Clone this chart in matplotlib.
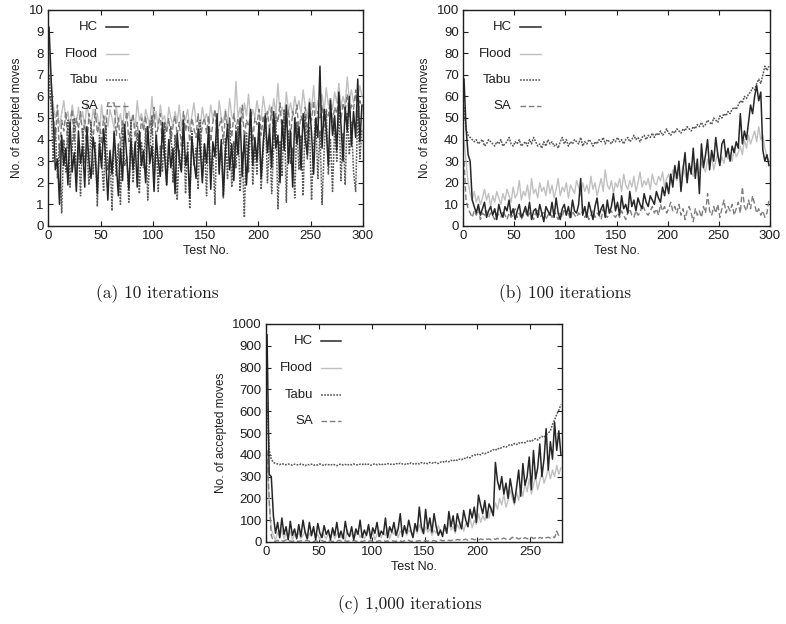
import matplotlib
matplotlib.use("Agg")
import matplotlib.pyplot as plt
import numpy as np

# ---------------- data ----------------
series_names = ["HC", "Flood", "Tabu", "SA"]
captions = ["(a) 10 iterations", "(b) 100 iterations", "(c) 1,000 iterations"]

x_a = list(range(1, 300, 2))
x_b = list(range(1, 300, 2))
x_c = list(range(1, 280, 2))

a_hc = [9.2, 6.8, 4.9, 2.6, 3.1, 1.0, 4.2, 2.8, 3.6, 1.9, 4.8, 2.5, 3.4, 1.6, 4.4,
        2.9, 3.7, 1.8, 4.6, 3.0, 2.2, 4.1, 3.3, 1.5, 3.8, 2.7, 4.5, 3.1, 1.2, 3.5,
        2.4, 4.3, 2.9, 1.4, 3.6, 2.1, 4.7, 3.2, 1.7, 4.0, 2.6, 3.9, 1.8, 4.4, 2.8,
        3.5, 2.0, 4.6, 2.9, 3.7, 1.6, 4.2, 3.0, 2.3, 4.8, 3.3, 1.9, 4.0, 2.7, 3.6,
        1.5, 4.3, 3.1, 2.5, 4.9, 2.8, 3.4, 1.3, 4.1, 3.0, 2.2, 4.5, 3.6, 2.0, 3.8,
        2.9, 4.6, 1.7, 3.9, 3.2, 5.2, 2.4, 4.0, 1.4, 3.5, 4.7, 2.6, 3.8, 2.1, 4.4,
        3.3, 5.0, 2.3, 4.2, 1.9, 3.7, 5.4, 2.8, 4.1, 3.0, 4.8, 2.2, 3.9, 5.1, 3.4,
        4.5, 2.7, 5.3, 3.6, 4.2, 2.0, 4.9, 3.5, 5.6, 2.9, 4.4, 1.8, 5.0, 3.8, 4.6,
        2.6, 5.2, 4.0, 3.3, 5.7, 4.3, 2.4, 5.0, 4.1, 7.4, 3.6, 5.4, 4.5, 2.8, 5.8,
        4.2, 5.1, 3.5, 6.2, 4.7, 3.0, 5.5, 4.4, 6.0, 3.7, 5.3, 4.1, 6.8, 3.9, 5.6]
a_flood = [8.0, 6.5, 5.6, 5.0, 5.4, 4.6, 5.2, 5.8, 4.9, 5.3, 4.4, 5.6, 5.0, 4.7, 5.5,
           4.8, 5.3, 4.5, 5.7, 5.0, 4.6, 5.4, 4.9, 5.2, 4.3, 5.6, 4.8, 5.1, 4.6, 5.4,
           5.0, 4.5, 5.5, 4.8, 5.2, 4.4, 5.7, 4.9, 5.3, 4.7, 5.1, 4.5, 5.8, 4.9, 5.2,
           4.6, 5.4, 5.0, 4.7, 6.0, 4.8, 5.3, 4.5, 5.6, 4.9, 5.1, 4.4, 5.5, 5.0, 4.7,
           5.3, 4.8, 5.6, 4.6, 5.2, 4.9, 5.4, 4.5, 5.1, 5.7, 4.8, 5.0, 4.6, 5.5, 4.9,
           5.2, 4.7, 5.6, 4.9, 5.3, 4.6, 5.8, 5.0, 4.8, 5.4, 4.7, 5.9, 5.1, 4.9, 6.7,
           5.0, 5.5, 4.8, 5.7, 5.1, 6.1, 4.9, 5.4, 5.0, 5.8, 5.2, 4.9, 6.0, 5.3, 5.1,
           5.6, 5.0, 5.9, 5.2, 6.6, 5.1, 5.5, 5.0, 6.2, 5.3, 5.7, 5.1, 6.0, 5.4, 5.8,
           5.2, 6.3, 5.5, 5.0, 5.9, 5.4, 6.5, 5.2, 5.8, 5.5, 6.1, 5.3, 6.4, 5.6, 5.9,
           5.4, 6.2, 5.7, 6.6, 5.5, 6.0, 5.6, 6.9, 5.8, 6.3, 5.7, 6.1, 5.9, 6.5, 6.0]
a_tabu = [7.0, 5.5, 3.0, 4.6, 2.2, 3.8, 0.6, 4.0, 2.5, 4.9, 1.8, 3.5, 5.0, 2.0, 3.7,
          1.4, 4.5, 2.9, 3.6, 1.9, 4.8, 2.4, 3.9, 0.9, 4.2, 3.1, 1.6, 4.7, 2.6, 3.3,
          0.7, 4.4, 2.3, 3.8, 1.0, 4.6, 2.8, 3.2, 1.1, 4.9, 2.0, 3.6, 4.3, 1.5, 3.9,
          2.7, 4.5, 1.2, 3.4, 5.1, 2.2, 4.0, 1.6, 3.7, 2.5, 4.8, 1.9, 3.3, 4.6, 2.0,
          4.2, 1.2, 3.5, 2.6, 4.7, 1.5, 3.9, 0.8, 4.4, 2.8, 3.6, 1.7, 4.9, 2.3, 3.8,
          1.4, 4.5, 2.6, 3.3, 1.0, 4.8, 2.9, 3.7, 1.3, 4.1, 2.2, 5.0, 1.8, 3.9, 2.7,
          4.6, 1.6, 3.4, 0.4, 4.3, 2.5, 5.3, 1.9, 3.8, 2.4, 4.7, 1.7, 3.5, 5.2, 2.0,
          4.1, 1.5, 3.7, 4.9, 0.8, 3.9, 2.3, 5.4, 1.1, 4.4, 2.9, 3.6, 1.3, 4.8, 2.6,
          4.2, 1.4, 5.1, 3.1, 4.6, 1.2, 3.8, 5.0, 2.2, 4.4, 1.0, 3.5, 5.3, 2.4, 4.0,
          1.6, 4.7, 3.0, 5.6, 2.1, 4.3, 1.9, 5.2, 3.3, 4.8, 2.5, 1.6, 5.4, 3.1, 4.5]
a_sa = [6.0, 5.8, 5.2, 4.0, 5.6, 3.2, 4.9, 4.4, 5.3, 3.6, 4.8, 5.4, 3.9, 5.0, 4.5,
        5.3, 4.1, 4.9, 3.5, 5.2, 4.6, 4.0, 5.4, 4.3, 4.8, 3.8, 5.1, 4.4, 5.7, 5.7,
        5.7, 5.7, 4.2, 5.0, 3.7, 4.9, 4.5, 5.3, 3.9, 4.7, 5.2, 4.1, 4.8, 3.6, 5.0,
        4.4, 5.1, 3.8, 4.9, 4.2, 5.5, 4.0, 4.7, 5.2, 3.6, 4.8, 4.3, 5.0, 3.9, 4.6,
        5.1, 4.2, 4.8, 3.7, 5.3, 4.4, 4.9, 3.9, 5.0, 4.5, 4.1, 5.2, 3.8, 4.7, 5.0,
        4.3, 5.1, 3.9, 4.8, 5.4, 4.2, 4.6, 5.0, 3.8, 5.3, 4.4, 4.9, 4.1, 5.2, 4.5,
        5.0, 4.3, 5.6, 4.1, 4.9, 4.6, 5.2, 3.9, 5.0, 4.7, 5.4, 4.2, 5.1, 4.5, 5.3,
        4.4, 5.5, 4.0, 5.2, 4.8, 5.7, 4.3, 5.0, 4.6, 5.4, 4.1, 5.3, 4.9, 5.6, 4.4,
        5.1, 4.7, 5.5, 4.3, 5.2, 4.9, 5.8, 4.5, 5.3, 5.0, 5.6, 4.6, 5.4, 5.1, 5.9,
        4.8, 5.5, 5.2, 6.0, 4.9, 5.7, 5.3, 6.1, 5.0, 5.6, 5.4, 6.3, 5.1, 5.8, 5.5]

b_hc = [68, 45, 33, 30, 12, 9, 6, 10, 5, 8, 11, 4, 7, 9, 5,
        8, 3, 10, 6, 4, 9, 7, 12, 5, 8, 3, 7, 10, 4, 6,
        9, 5, 11, 3, 7, 8, 4, 10, 6, 2, 9, 7, 5, 11, 4,
        13, 6, 3, 8, 10, 5, 9, 4, 12, 7, 6, 10, 22, 5, 9,
        4, 11, 7, 3, 9, 13, 5, 8, 10, 4, 12, 6, 9, 15, 7,
        11, 5, 14, 8, 10, 6, 16, 9, 12, 7, 13, 10, 8, 15, 11,
        9, 14, 12, 10, 16, 13, 11, 18, 14, 20, 15, 24, 18, 28, 22,
        30, 16, 26, 34, 20, 29, 24, 36, 22, 31, 15, 38, 27, 33, 40,
        26, 35, 30, 41, 33, 28, 38, 40, 32, 36, 30, 37, 34, 39, 36,
        52, 38, 44, 40, 48, 56, 52, 60, 65, 58, 62, 35, 30, 33, 28]
b_flood = [40, 30, 20, 15, 12, 16, 11, 14, 10, 13, 17, 12, 15, 9, 14,
           11, 16, 13, 10, 15, 12, 17, 14, 11, 18, 13, 15, 21, 12, 16,
           14, 19, 12, 22, 15, 17, 13, 20, 16, 18, 14, 21, 15, 19, 13,
           17, 22, 14, 18, 16, 20, 13, 19, 17, 15, 21, 18, 14, 20, 16,
           19, 15, 23, 17, 20, 14, 18, 22, 16, 26, 19, 17, 21, 15, 20,
           18, 22, 16, 24, 19, 17, 21, 18, 23, 16, 20, 25, 18, 21, 19,
           22, 17, 24, 20, 19, 23, 21, 25, 18, 22, 24, 20, 26, 23, 21,
           25, 22, 28, 24, 21, 27, 25, 23, 29, 26, 24, 30, 27, 25, 31,
           28, 33, 26, 30, 34, 28, 32, 29, 35, 31, 33, 30, 36, 32, 34,
           37, 33, 40, 36, 42, 38, 41, 44, 39, 46, 40, 42, 36, 32, 30]
b_tabu = [55, 45, 42, 41, 40, 39, 40, 38, 39, 40, 37, 38, 40, 39, 38,
          37, 39, 38, 40, 37, 38, 39, 41, 38, 37, 39, 38, 40, 37, 38,
          39, 37, 40, 38, 41, 39, 37, 38, 36, 39, 37, 40, 38, 39, 37,
          38, 36, 39, 41, 38, 40, 37, 39, 38, 40, 39, 38, 41, 37, 39,
          38, 40, 39, 37, 39, 38, 40, 39, 41, 38, 40, 39, 38, 40, 39,
          41, 39, 40, 38, 40, 41, 39, 40, 42, 40, 41, 39, 41, 42, 40,
          42, 41, 43, 41, 43, 42, 44, 42, 43, 45, 43, 42, 44, 43, 45,
          44, 43, 45, 44, 46, 45, 44, 46, 45, 47, 46, 48, 46, 47, 49,
          48, 47, 50, 49, 48, 51, 50, 52, 51, 53, 52, 54, 55, 54, 56,
          58, 57, 60, 59, 61, 62, 64, 63, 66, 68, 66, 70, 74, 72, 74]
b_sa = [30, 12, 8, 6, 4, 7, 5, 8, 3, 6, 5, 7, 4, 6, 5,
        3, 6, 5, 4, 7, 5, 3, 6, 4, 5, 8, 4, 6, 3, 5,
        7, 4, 6, 5, 3, 6, 8, 4, 5, 7, 3, 5, 6, 4, 7,
        5, 3, 6, 4, 8, 5, 6, 3, 7, 5, 4, 6, 5, 7, 4,
        6, 3, 5, 7, 4, 6, 5, 3, 8, 5, 4, 6, 7, 5, 4,
        6, 4, 7, 5, 3, 6, 8, 5, 4, 7, 5, 6, 10, 8, 6,
        5, 7, 9, 6, 8, 5, 10, 7, 9, 6, 8, 11, 7, 9, 6,
        10, 5, 8, 3, 7, 9, 6, 2, 8, 5, 7, 4, 9, 6, 15,
        7, 5, 9, 6, 10, 4, 8, 12, 6, 9, 7, 10, 5, 8, 11,
        6, 18, 9, 7, 12, 8, 14, 10, 6, 8, 5, 7, 4, 6, 12]

c_hc = [950, 310, 300, 120, 40, 90, 20, 110, 35, 70, 10, 95, 30, 60, 15,
        80, 25, 100, 45, 15, 90, 30, 70, 10, 85, 40, 20, 75, 35, 55,
        10, 65, 30, 90, 20, 50, 15, 95, 40, 25, 70, 10, 60, 35, 100,
        20, 55, 30, 80, 15, 65, 40, 90, 25, 50, 35, 110, 20, 70, 45,
        90, 30, 60, 130, 25, 75, 40, 100, 55, 20, 85, 50, 160, 70, 40,
        150, 60, 110, 45, 130, 70, 30, 55, 25, 80, 40, 140, 70, 120, 50,
        130, 90, 60, 145, 100, 70, 150, 110, 160, 90, 215, 170, 130, 190, 110,
        175, 150, 120, 365, 280, 240, 300, 220, 270, 200, 290, 230, 180, 250, 330,
        210, 360, 260, 300, 390, 240, 420, 290, 340, 450, 300, 380, 520, 330, 460,
        380, 550, 420, 510, 400]
c_flood = [400, 180, 60, 30, 10, 45, 20, 55, 15, 40, 25, 50, 10, 35, 20,
           45, 15, 30, 50, 10, 40, 25, 55, 20, 35, 10, 45, 30, 15, 40,
           25, 50, 15, 35, 45, 20, 30, 10, 55, 25, 40, 15, 35, 50, 20,
           40, 15, 30, 60, 25, 45, 10, 35, 55, 20, 40, 30, 65, 15, 45,
           35, 60, 20, 50, 40, 70, 30, 55, 45, 25, 65, 40, 80, 50, 35,
           70, 45, 60, 30, 55, 40, 75, 50, 35, 65, 45, 90, 55, 70, 40,
           80, 60, 95, 50, 85, 70, 110, 65, 100, 80, 130, 90, 120, 100, 140,
           110, 160, 130, 180, 150, 200, 170, 220, 160, 190, 240, 200, 170, 230, 190,
           250, 210, 270, 230, 290, 220, 260, 300, 240, 280, 320, 270, 300, 340, 290,
           330, 300, 350, 310, 340]
c_tabu = [640, 420, 380, 365, 360, 358, 355, 360, 356, 354, 358, 355, 352, 357, 355,
          353, 358, 355, 350, 356, 354, 357, 352, 355, 353, 358, 354, 351, 356, 355,
          352, 357, 354, 350, 355, 358, 353, 356, 352, 357, 354, 358, 355, 353, 357,
          355, 360, 354, 357, 352, 356, 359, 354, 357, 353, 358, 356, 360, 355, 358,
          356, 360, 357, 362, 358, 355, 361, 357, 363, 359, 356, 362, 358, 364, 360,
          363, 359, 365, 361, 367, 363, 360, 366, 370, 365, 372, 368, 375, 371, 378,
          374, 380, 377, 385, 382, 390, 386, 395, 400, 397, 405, 400, 408, 404, 410,
          412, 418, 424, 420, 430, 426, 434, 438, 435, 442, 448, 444, 452, 447, 455,
          452, 458, 455, 462, 466, 460, 470, 474, 468, 478, 485, 480, 492, 500, 510,
          540, 560, 585, 605, 630]
c_sa = [420, 200, 30, 5, 3, 8, 2, 6, 4, 10, 3, 5, 2, 7, 4,
        3, 6, 2, 5, 8, 3, 4, 2, 6, 3, 5, 7, 2, 4, 3,
        6, 2, 5, 3, 8, 4, 2, 6, 3, 5, 2, 7, 4, 3, 5,
        2, 6, 4, 3, 7, 2, 5, 3, 6, 4, 8, 3, 5, 2, 6,
        4, 3, 7, 5, 2, 6, 4, 8, 3, 5, 6, 4, 7, 3, 5,
        6, 4, 8, 5, 7, 3, 6, 9, 5, 7, 4, 8, 6, 10, 7,
        12, 9, 14, 10, 13, 8, 12, 15, 10, 13, 9, 14, 11, 16, 12,
        14, 10, 15, 12, 17, 11, 14, 18, 13, 16, 12, 22, 15, 19, 14,
        17, 13, 20, 15, 18, 22, 16, 19, 14, 21, 17, 24, 19, 22, 18,
        25, 20, 50, 28, 22]

# ---------------- styling ----------------
styles = {
    "HC":    dict(color="#262626", lw=1.1, ls="-"),
    "Flood": dict(color="#c0c0c0", lw=1.0, ls="-"),
    "Tabu":  dict(color="#5a5a5a", lw=1.1, ls=(0, (1.2, 0.8))),
    "SA":    dict(color="#7e7e7e", lw=1.0, ls=(0, (4, 2))),
}
draw_order = ["Flood", "SA", "Tabu", "HC"]

plt.rcParams["font.family"] = ["Liberation Sans", "DejaVu Sans"]

W, H = 786, 624
fig = plt.figure(figsize=(W / 100, H / 100), dpi=100)


def px_axes(l, t, r, b):
    return fig.add_axes([l / W, 1 - b / H, (r - l) / W, (b - t) / H])


panels = [
    (px_axes(48, 10, 363, 226), x_a, dict(HC=a_hc, Flood=a_flood, Tabu=a_tabu, SA=a_sa),
     (0, 300), (0, 10), np.arange(0, 301, 50), np.arange(0, 11, 1)),
    (px_axes(463, 10, 770, 226), x_b, dict(HC=b_hc, Flood=b_flood, Tabu=b_tabu, SA=b_sa),
     (0, 300), (0, 100), np.arange(0, 301, 50), np.arange(0, 101, 10)),
    (px_axes(266, 324, 562, 542), x_c, dict(HC=c_hc, Flood=c_flood, Tabu=c_tabu, SA=c_sa),
     (0, 280), (0, 1000), np.arange(0, 251, 50), np.arange(0, 1001, 100)),
]

for ax, xs, data, xl, yl, xt, yt in panels:
    for name in draw_order:
        ax.plot(xs, data[name], **styles[name])
    ax.set_xlim(*xl)
    ax.set_ylim(*yl)
    ax.set_xticks(xt)
    ax.set_yticks(yt)
    ax.tick_params(direction="in", length=3.5, width=0.8, top=True, right=True,
                   labelsize=9.5, pad=3, colors="#1e1e1e")
    for s in ax.spines.values():
        s.set_linewidth(1.0)
        s.set_color("#1e1e1e")
    ax.set_xlabel("Test No.", fontsize=9, labelpad=2, color="#1e1e1e")
    ax.set_ylabel("No. of accepted moves", fontsize=8.5, labelpad=4, color="#1e1e1e")
    # gnuplot-like key: right-aligned labels with line samples to the right
    for i, name in enumerate(series_names):
        yk = 0.92 - i * 0.122
        ax.text(0.158, yk, name, transform=ax.transAxes, ha="right", va="center",
                fontsize=9.5, color="#1e1e1e")
        ax.plot([0.185, 0.255], [yk, yk], transform=ax.transAxes, **styles[name])

cap_font = dict(family=["cmr10", "DejaVu Serif"], fontsize=12.5, color="#1e1e1e")
fig.text(157 / W, 1 - 294 / H, captions[0], ha="center", va="center", **cap_font)
fig.text(565 / W, 1 - 294 / H, captions[1], ha="center", va="center", **cap_font)
fig.text(410 / W, 1 - 605 / H, captions[2], ha="center", va="center", **cap_font)

fig.savefig("out.png", dpi=100)
